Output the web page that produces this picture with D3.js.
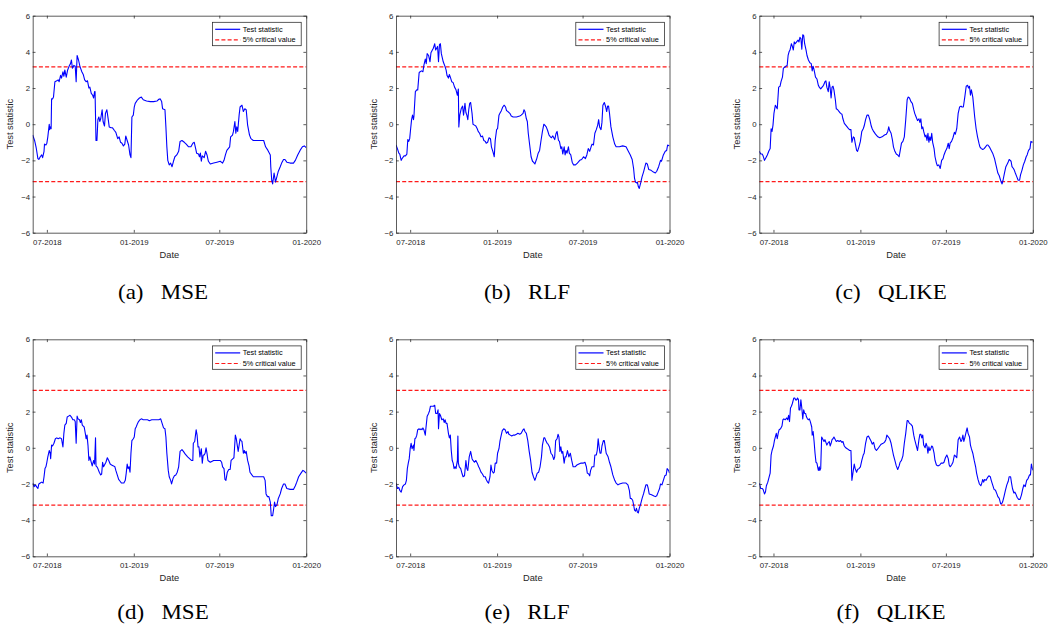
<!DOCTYPE html>
<html lang="en">
<head>
    <meta charset="UTF-8">
    <title>Test statistic</title>
    <script src="https://d3js.org/d3.v7.min.js"></script>
</head>
<style>
    html,body {
        margin: 0;
        padding: 0;
        background: #fff;
    }
</style>
<body>
    <div id="svg"></div>
</body>
<script>
    // days since 2018-06-01, test statistic
    const mseTop = [[0,-0.6],[4,-0.9],[7,-1.25],[8,-1.4],[11,-1.9],[13,-1.95],[16,-1.8],[19,-1.7],[21,-1.85],[24,-1.5],[25,-1.1],[28,-1.15],[30,-1.05],[32,-0.7],[35,0],[36,-0.3],[37,-0.15],[39,-0.25],[40,1.4],[42,1.4],[44,1.5],[47,2.35],[51,2.4],[54,2.45],[56,2.35],[59,2.7],[61,2.55],[64,2.9],[66,2.65],[68,3.0],[71,2.6],[74,3.0],[77,3.2],[80,3.35],[82,3.55],[84,3.1],[87,3.25],[90,3.2],[92,2.35],[94,3.8],[97,3.55],[100,3.2],[104,2.9],[107,2.75],[110,2.45],[113,2.35],[116,2.4],[119,2.0],[121,2.05],[124,1.7],[127,1.6],[129,1.45],[131,1.8],[132,1.8],[134,-0.9],[136,-0.9],[138,0.25],[140,0.4],[142,0.15],[144,0.3],[147,0.8],[149,0.15],[152,-0.1],[154,0.6],[157,0.8],[160,0.25],[162,-0.15],[166,-0.2],[169,-0.2],[173,-0.35],[176,-0.45],[180,-0.8],[183,-0.7],[186,-1.0],[189,-1.05],[192,-1.2],[195,-1.1],[197,-0.65],[200,-0.9],[203,-1.15],[206,-1.7],[208,-1.85],[210,0.4],[213,0.5],[215,0.95],[217,1.15],[222,1.35],[226,1.45],[230,1.5],[234,1.35],[241,1.28],[249,1.25],[256,1.25],[263,1.28],[267,1.38],[270,1.4],[273,1.25],[275,0.85],[280,0.8],[282,-0.15],[284,-1.25],[286,-2.0],[289,-2.25],[292,-2.15],[295,-2.35],[298,-2.05],[301,-1.8],[305,-1.7],[309,-1.5],[312,-0.95],[316,-0.9],[321,-1.0],[325,-1.1],[330,-1.25],[335,-1.25],[339,-1.05],[342,-1.0],[345,-1.35],[347,-1.6],[351,-1.65],[353,-1.8],[355,-1.6],[357,-2.05],[359,-1.75],[363,-1.85],[366,-1.5],[369,-1.7],[372,-2.05],[376,-2.2],[383,-2.15],[390,-2.1],[397,-2.05],[402,-2.15],[405,-2.0],[408,-1.7],[411,-1.45],[414,-1.35],[417,-1.25],[419,-0.7],[423,-0.6],[425,-0.4],[428,0.15],[430,-0.5],[432,-0.15],[434,-0.4],[437,0.5],[439,0.95],[443,1.05],[446,0.7],[449,0.85],[452,0.8],[455,-0.05],[459,-0.6],[462,-0.8],[467,-0.9],[474,-0.9],[481,-0.9],[489,-0.9],[493,-1.25],[498,-1.45],[503,-1.7],[504,-2.35],[506,-3.1],[508,-3.3],[511,-2.7],[514,-3.2],[517,-2.9],[520,-2.6],[524,-2.35],[527,-2.15],[531,-1.95],[534,-1.95],[538,-2.1],[545,-2.15],[552,-2.15],[556,-2.0],[561,-1.7],[566,-1.45],[571,-1.25],[575,-1.2],[579,-1.3]];
    const rlfTop = [[0,-1.15],[3,-1.35],[6,-1.6],[8,-1.65],[11,-2.0],[13,-1.9],[17,-1.75],[20,-1.75],[23,-1.65],[25,-0.85],[27,-0.95],[29,-0.8],[31,-0.25],[33,0.25],[35,0.5],[37,0.25],[38,0.45],[41,1.8],[44,1.9],[46,1.9],[49,2.85],[51,2.9],[54,2.95],[57,2.9],[59,3.25],[62,3.6],[64,3.35],[66,3.9],[69,3.8],[72,3.45],[74,3.95],[77,4.1],[79,4.2],[82,4.45],[84,4.1],[86,4.2],[88,4.3],[90,3.45],[92,4.4],[94,4.45],[96,3.9],[100,3.45],[103,3.25],[106,3.0],[108,2.7],[111,2.55],[113,2.75],[115,2.6],[118,2.35],[121,2.3],[124,2.05],[127,1.9],[130,1.6],[132,1.95],[133,-0.15],[135,0.5],[138,0.85],[141,1.0],[143,0.5],[146,1.15],[148,0.65],[150,0.5],[152,0.25],[154,0.8],[156,1.15],[158,1.2],[161,0.6],[163,0],[166,-0.05],[169,-0.1],[172,-0.25],[174,-0.4],[177,-0.5],[180,-0.7],[183,-0.65],[186,-0.9],[189,-0.95],[191,-1.05],[194,-1.0],[197,-0.75],[200,-0.8],[202,-1.25],[205,-1.5],[207,-1.7],[208,-1.8],[210,-0.9],[213,-0.3],[215,-0.25],[218,0.5],[220,0.6],[223,0.75],[226,0.95],[229,1.05],[232,0.95],[234,0.75],[237,0.7],[241,0.6],[244,0.45],[248,0.4],[255,0.4],[262,0.45],[265,0.5],[269,0.6],[271,0.8],[273,0.7],[276,0.3],[278,0.15],[280,-0.5],[283,-1.15],[286,-1.8],[289,-2.05],[291,-2.1],[294,-2.2],[296,-2.05],[298,-1.9],[301,-1.6],[304,-1.45],[307,-0.9],[310,-0.4],[313,0],[315,-0.05],[318,-0.15],[321,-0.35],[324,-0.6],[327,-0.7],[329,-0.75],[332,-0.65],[336,-0.85],[339,-0.5],[341,-0.4],[344,-0.9],[346,-0.95],[349,-1.35],[351,-1.25],[353,-1.65],[356,-1.25],[358,-1.7],[360,-1.45],[362,-1.6],[365,-1.25],[367,-1.6],[370,-1.7],[373,-2.1],[376,-2.25],[380,-2.25],[384,-2.15],[389,-2.0],[393,-1.95],[397,-1.8],[401,-1.9],[404,-1.7],[407,-1.35],[410,-1.5],[413,-1.25],[415,-1.1],[418,-1.15],[421,-0.5],[424,-0.3],[427,-0.05],[429,0.25],[431,-0.15],[434,-0.3],[436,0.1],[438,1.05],[441,1.2],[444,0.95],[446,0.7],[448,1.0],[450,1.0],[452,0.6],[455,-0.15],[459,-0.7],[463,-1.1],[466,-1.25],[473,-1.25],[480,-1.2],[487,-1.25],[491,-1.45],[496,-1.7],[500,-1.95],[503,-2.45],[505,-3.0],[507,-3.2],[509,-3.25],[511,-3.2],[513,-3.45],[515,-3.55],[518,-3.25],[521,-2.9],[524,-2.65],[527,-2.35],[529,-2.15],[532,-2.2],[535,-2.5],[540,-2.55],[545,-2.65],[549,-2.7],[552,-2.6],[556,-2.35],[560,-2.0],[562,-2.05],[566,-1.7],[570,-1.5],[573,-1.45],[575,-1.15],[579,-1.2]];
    const qlikeTop = [[0,-1.5],[3,-1.65],[6,-1.65],[8,-1.75],[11,-2.0],[14,-1.85],[17,-1.7],[20,-1.5],[23,-1.35],[25,-0.25],[27,-0.4],[29,-0.05],[31,0.6],[34,1.05],[36,0.95],[38,0.85],[41,2.05],[44,2.1],[46,2.35],[49,2.6],[51,3.1],[54,3.15],[56,3.2],[59,3.25],[61,3.8],[63,4.0],[65,4.1],[68,4.45],[70,4.3],[72,4.1],[74,4.55],[76,4.45],[79,4.55],[82,4.65],[84,4.55],[86,4.8],[88,4.75],[90,4.15],[92,4.95],[94,4.9],[96,4.45],[99,4.1],[101,3.8],[104,3.55],[107,3.4],[110,3.35],[112,2.95],[114,3.2],[116,3.0],[119,2.6],[122,2.5],[125,2.15],[127,2.05],[130,1.95],[133,2.05],[136,2.15],[139,2.35],[141,2.4],[143,2.05],[146,1.8],[148,2.35],[150,2.0],[152,1.45],[154,2.05],[156,2.1],[158,1.9],[161,1.35],[163,0.85],[166,0.8],[169,0.7],[172,0.6],[175,0.55],[177,0.3],[180,0.05],[183,-0.05],[186,-0.15],[189,-0.25],[191,-0.3],[194,-0.3],[196,-1.0],[199,-0.7],[201,-0.75],[203,-1.05],[206,-1.45],[208,-1.5],[211,-1.25],[214,-0.95],[217,-0.4],[220,-0.25],[222,-0.1],[225,0.25],[228,0.5],[231,0.5],[234,0.25],[237,-0.1],[239,-0.25],[242,-0.4],[246,-0.55],[251,-0.7],[255,-0.75],[260,-0.7],[265,-0.6],[269,-0.55],[272,-0.4],[274,-0.15],[276,-0.35],[279,-0.5],[282,-0.9],[284,-1.25],[287,-1.5],[290,-1.65],[293,-1.7],[296,-1.8],[298,-1.5],[301,-1.05],[304,-0.95],[307,-0.7],[310,0.25],[313,1.35],[315,1.5],[318,1.45],[321,1.25],[324,1.15],[327,0.8],[329,0.6],[332,0.4],[335,0.2],[338,0.3],[340,0.1],[342,0.3],[344,-0.25],[346,-0.15],[348,-0.4],[351,-0.7],[353,-0.6],[355,-0.9],[357,-0.5],[359,-1.0],[361,-0.7],[363,-0.9],[365,-0.5],[367,-1.0],[370,-1.35],[372,-1.8],[375,-2.15],[377,-2.3],[380,-2.25],[383,-2.45],[386,-2.0],[389,-1.9],[391,-1.7],[394,-1.5],[397,-1.35],[400,-1.05],[402,-1.35],[404,-1.05],[407,-0.95],[410,-0.75],[413,-0.45],[415,-0.55],[418,-0.25],[421,0.6],[424,0.95],[427,1.0],[429,0.95],[432,0.95],[435,1.5],[438,2.1],[441,2.15],[443,2.0],[445,2.1],[447,1.6],[449,1.9],[452,1.5],[454,0.95],[456,0.4],[459,-0.25],[462,-0.7],[465,-1.05],[467,-1.25],[470,-1.35],[473,-1.4],[476,-1.35],[479,-1.25],[482,-1.15],[484,-1.15],[487,-1.25],[491,-1.45],[494,-1.6],[498,-1.9],[501,-2.25],[505,-2.7],[508,-2.85],[512,-3.2],[514,-3.3],[516,-3.1],[519,-2.7],[522,-2.35],[526,-2.15],[529,-1.95],[533,-2.05],[535,-2.35],[538,-2.45],[540,-2.55],[542,-2.7],[545,-2.9],[548,-3.1],[551,-3.1],[553,-2.8],[556,-2.55],[559,-2.25],[562,-2.05],[565,-1.8],[567,-1.7],[570,-1.45],[573,-1.35],[575,-0.95],[579,-1.0]];
    const mseBottom = [[0,-1.95],[3,-2.15],[6,-2.05],[8,-2.15],[11,-2.25],[13,-2.0],[16,-1.95],[19,-1.9],[22,-1.95],[24,-1.6],[26,-1.15],[28,-1.05],[30,-0.8],[32,-0.5],[35,-0.15],[37,-0.3],[38,-0.6],[40,0.15],[42,0.1],[45,0.25],[48,0.5],[51,0.55],[54,0.5],[58,0.55],[61,0.5],[64,0.05],[66,0.8],[68,1.25],[71,1.35],[73,1.7],[76,1.75],[79,1.8],[82,1.7],[85,1.55],[88,1.55],[90,1.45],[92,0.25],[94,1.75],[96,1.6],[99,1.55],[101,1.4],[103,1.55],[105,1.25],[107,1.2],[109,1.15],[112,0.7],[113,0.5],[115,0.7],[117,0.15],[119,-0.7],[121,-0.5],[124,-0.8],[126,-1.0],[129,-0.7],[131,-0.9],[133,0.55],[134,-1.0],[136,-1.05],[138,-1.15],[141,-1.35],[144,-1.5],[146,-1.45],[148,-0.8],[150,-1.05],[152,-0.95],[155,-0.8],[158,-0.55],[161,-0.7],[164,-0.9],[167,-0.95],[171,-1.0],[174,-1.05],[176,-1.25],[179,-1.5],[182,-1.75],[185,-1.85],[188,-1.95],[191,-1.95],[193,-1.95],[196,-1.8],[198,-1.4],[200,-0.9],[202,-1.15],[204,-1.05],[206,-1.35],[208,-0.3],[210,0.4],[213,0.5],[215,0.6],[217,1.05],[219,1.15],[222,1.35],[224,1.45],[227,1.55],[230,1.6],[234,1.55],[239,1.55],[243,1.55],[247,1.5],[252,1.55],[257,1.55],[263,1.55],[267,1.55],[271,1.6],[274,1.35],[277,1.1],[280,1.05],[282,0.6],[284,-0.3],[287,-1.25],[289,-1.6],[292,-1.8],[294,-2.0],[297,-1.7],[300,-1.55],[303,-1.5],[306,-1.35],[309,-1.05],[312,-0.2],[316,-0.1],[319,-0.2],[323,-0.35],[328,-0.5],[332,-0.6],[336,-0.7],[339,-0.7],[340,0.25],[343,0.35],[346,1.0],[348,0.7],[350,0.05],[352,0.05],[354,-0.5],[357,-0.05],[359,-0.85],[361,-0.4],[363,-0.4],[365,-0.3],[367,0],[369,-0.3],[371,-0.7],[376,-0.8],[383,-0.7],[390,-0.7],[397,-0.7],[400,-0.8],[402,-1.05],[405,-1.15],[407,-1.75],[409,-1.8],[412,-1.35],[415,-1.2],[418,-1.2],[420,-0.7],[424,-0.6],[426,-0.55],[429,0.7],[431,0.5],[433,0.15],[435,-0.2],[437,0.15],[439,0.5],[441,0.4],[443,0.35],[446,-0.3],[448,-0.15],[450,-0.3],[452,-0.2],[455,-0.7],[458,-1.0],[460,-1.35],[464,-1.5],[467,-1.6],[474,-1.6],[481,-1.6],[489,-1.6],[492,-1.8],[494,-2.55],[497,-2.7],[500,-2.7],[503,-3.0],[505,-3.75],[508,-3.75],[510,-3.4],[512,-3.0],[514,-3.25],[517,-3.15],[520,-2.8],[524,-2.55],[527,-2.25],[531,-2.0],[534,-2.0],[538,-2.25],[545,-2.3],[552,-2.3],[556,-2.1],[559,-1.9],[563,-1.6],[568,-1.4],[572,-1.25],[575,-1.3],[579,-1.4]];
    const rlfBottom = [[0,-1.95],[3,-2.25],[6,-2.2],[8,-2.35],[11,-2.45],[14,-2.15],[17,-2.05],[20,-2.0],[22,-1.8],[24,-1.15],[26,-0.85],[28,-0.6],[30,-0.05],[32,0.25],[34,-0.05],[37,0.15],[38,-0.15],[40,0.5],[42,0.55],[44,0.7],[46,1.0],[49,1.05],[51,1.0],[53,1.05],[55,1.0],[57,1.1],[59,1.0],[62,0.7],[63,1.0],[66,1.75],[69,1.9],[71,2.05],[73,2.3],[76,2.3],[79,2.3],[82,2.35],[84,1.9],[87,1.9],[89,2.1],[90,1.05],[92,1.9],[94,1.8],[97,1.55],[100,1.6],[102,1.4],[104,1.55],[106,1.35],[108,1.35],[111,0.8],[113,0.55],[115,0.7],[117,-0.15],[119,-0.7],[121,-0.85],[123,-1.15],[125,-1.05],[127,-1.15],[130,-0.7],[131,0.65],[132,-0.85],[134,-1.05],[137,-1.15],[139,-1.35],[142,-1.6],[145,-1.55],[148,-0.7],[150,-1.15],[152,-1.25],[155,-0.5],[158,-0.2],[161,-0.6],[163,-0.7],[166,-0.8],[169,-0.7],[172,-0.85],[175,-1.05],[177,-1.15],[180,-1.35],[183,-1.45],[186,-1.6],[189,-1.6],[191,-1.75],[194,-1.9],[196,-1.95],[199,-1.6],[201,-0.95],[203,-1.25],[206,-1.4],[208,-1.35],[210,-0.85],[213,-0.85],[215,-0.3],[218,-0.05],[220,0.35],[222,0.6],[225,0.95],[228,1.05],[231,1.0],[234,0.8],[237,0.9],[239,0.75],[242,0.7],[245,0.65],[248,0.7],[251,0.7],[255,0.75],[258,0.8],[262,0.75],[265,0.8],[269,1.0],[271,1.05],[273,0.9],[276,0.8],[279,0.4],[282,-0.2],[285,-0.7],[288,-1.35],[291,-1.6],[294,-1.8],[296,-1.65],[299,-1.4],[302,-1.35],[305,-1.05],[308,-0.5],[310,0.15],[313,0.55],[315,0.55],[317,0.4],[320,0.25],[322,0.2],[325,0.05],[328,-0.3],[331,-0.4],[334,-0.65],[336,-0.5],[338,0.4],[341,0.5],[343,0.75],[345,0.6],[347,-0.2],[349,0.05],[351,-0.3],[353,-0.2],[356,-0.85],[358,-0.5],[360,-0.5],[363,-0.15],[366,-0.5],[369,-0.3],[372,-0.7],[375,-1.05],[379,-1.05],[383,-0.95],[387,-0.9],[391,-0.85],[396,-0.85],[400,-0.8],[403,-1.05],[405,-1.4],[408,-1.45],[410,-1.55],[412,-1.25],[415,-1.05],[417,-1.05],[419,-1.05],[421,-0.4],[424,-0.4],[426,-0.15],[428,0.5],[430,0.05],[432,-0.3],[434,-0.3],[436,0.1],[439,0.4],[441,0.4],[443,0.05],[445,-0.3],[447,-0.4],[449,-0.5],[452,-0.8],[455,-1.05],[459,-1.5],[463,-1.8],[466,-1.95],[470,-2.05],[473,-2.0],[480,-1.95],[487,-1.95],[491,-2.05],[494,-2.35],[496,-2.8],[498,-2.8],[501,-2.9],[503,-3.15],[505,-3.45],[507,-3.5],[509,-3.35],[511,-3.55],[513,-3.6],[515,-3.35],[518,-3.1],[521,-2.8],[524,-2.55],[527,-2.25],[529,-2.05],[532,-2.05],[534,-2.25],[536,-2.55],[541,-2.6],[545,-2.65],[549,-2.7],[552,-2.65],[555,-2.45],[558,-2.25],[560,-2.0],[563,-2.05],[566,-1.8],[569,-1.55],[572,-1.5],[574,-1.15],[577,-1.25],[579,-1.4]];
    const qlikeBottom = [[0,-1.95],[3,-2.25],[6,-2.25],[8,-2.3],[11,-2.55],[13,-2.45],[15,-2.1],[18,-1.9],[21,-1.6],[23,-1.4],[25,-0.4],[27,-0.15],[30,0.1],[32,0.4],[34,0.6],[36,0.8],[38,0.5],[40,0.8],[42,1.0],[45,1.05],[48,1.2],[50,1.55],[52,1.6],[55,1.55],[58,1.65],[60,1.55],[62,1.8],[64,1.45],[66,2.2],[68,2.3],[70,2.45],[73,2.75],[75,2.75],[77,2.65],[79,2.65],[81,2.75],[83,2.65],[84,2.1],[86,2.1],[88,2.65],[90,2.2],[92,1.6],[94,2.1],[96,1.9],[98,1.9],[100,1.7],[102,1.6],[104,1.55],[106,1.6],[108,1.45],[111,1.15],[112,0.7],[114,0.9],[116,0.35],[118,-0.3],[120,-0.8],[122,-0.85],[125,-1.25],[127,-1.05],[128,-1.25],[130,-1.15],[132,0.6],[134,0.5],[137,0.35],[139,0.45],[141,0.3],[143,0.15],[145,0.25],[148,0.35],[150,0.1],[152,0.25],[154,0.45],[156,0.5],[158,0.6],[161,0.45],[163,0.35],[166,0.4],[169,0.35],[172,0.4],[175,0.3],[177,0.35],[180,0.1],[183,0],[186,-0.05],[189,-0.1],[191,-0.15],[194,-0.15],[196,-1.8],[199,-1.25],[201,-0.9],[203,-1.15],[206,-1.35],[208,-1.2],[211,-1.15],[214,-1.05],[217,-0.7],[220,-0.4],[222,-0.3],[225,0.25],[228,0.6],[231,0.65],[234,0.5],[237,0.35],[239,0.2],[242,0.3],[245,-0.05],[248,-0.15],[251,-0.05],[255,0.1],[258,0.2],[262,0.25],[265,0.3],[268,0.45],[270,0.7],[273,0.6],[276,0.5],[279,0.25],[282,-0.15],[284,-0.4],[287,-0.7],[290,-1.0],[293,-1.2],[296,-1.0],[298,-0.8],[301,-0.7],[304,-0.45],[307,0.25],[310,0.8],[313,1.5],[315,1.5],[318,1.35],[321,1.3],[324,1.2],[327,0.7],[329,0.45],[332,0.15],[335,-0.15],[338,0.45],[340,0.75],[342,0.75],[344,0.55],[346,0.7],[348,0.15],[351,0],[353,0.25],[355,0.1],[357,-0.3],[359,0.05],[361,-0.15],[363,-0.05],[365,0.1],[367,0.05],[370,-0.3],[372,-0.7],[375,-0.95],[378,-1.0],[382,-0.95],[385,-0.85],[389,-0.85],[391,-0.8],[394,-0.55],[397,-0.4],[400,-0.6],[402,-0.95],[404,-1.05],[407,-0.95],[410,-0.8],[413,-0.4],[415,-0.45],[418,-0.55],[421,0.45],[424,0.6],[427,0.35],[429,0.45],[431,0.7],[433,0.35],[435,0.55],[438,0.9],[440,1.1],[442,0.8],[445,0.6],[447,0.15],[449,-0.05],[452,-0.3],[455,-0.7],[458,-1.05],[460,-1.4],[463,-1.75],[466,-2.0],[469,-2.1],[471,-1.95],[473,-1.75],[475,-1.9],[477,-1.75],[480,-1.8],[483,-1.65],[486,-1.55],[489,-1.6],[491,-1.8],[494,-2.05],[497,-2.3],[500,-2.35],[503,-2.55],[505,-2.7],[508,-2.8],[511,-3.1],[513,-3.1],[515,-3.0],[518,-2.7],[521,-2.35],[524,-2.05],[527,-1.85],[529,-1.6],[532,-1.6],[534,-1.95],[536,-2.25],[539,-2.5],[541,-2.45],[543,-2.55],[546,-2.75],[549,-2.85],[552,-2.85],[555,-2.6],[558,-2.25],[560,-2.05],[563,-2.15],[566,-1.8],[569,-1.7],[572,-1.5],[574,-1.5],[576,-0.9],[579,-1.25]];

    const series = [mseTop, rlfTop, qlikeTop, mseBottom, rlfBottom, qlikeBottom];
    const captionTags = ['(a)', '(b)', '(c)', '(d)', '(e)', '(f)'];
    const captionNames = ['MSE', 'RLF', 'QLIKE', 'MSE', 'RLF', 'QLIKE'];
    const criticalValue = 3.17;
    const yTicks = [-6, -4, -2, 0, 2, 4, 6];
    const xTickDates = ['2018-07-01', '2019-01-01', '2019-07-01', '2020-01-01'];
    const legendLabels = ['Test statistic', '5% critical value'];

    const startDate = new Date(2018, 5, 1);
    const endDate = new Date(2020, 0, 1);
    const parseDay = d3.timeParse('%Y-%m-%d');

    // layout
    const colLeft = [32.7, 396, 759.3];
    const rowTop = [15.7, 339.3];
    const captionX = [163, 527, 891];
    const captionBase = [299, 619];
    const pw = 273.5, ph = 217;
    const axisColor = '#262626';
    const red = '#ff1a1a';
    const sans = '"Liberation Sans", Arial, Helvetica, sans-serif';

    const svg = d3.select('#svg').append('svg')
        .attr('width', 1048)
        .attr('height', 625);

    svg.append('defs').append('clipPath').attr('id', 'plotclip')
        .append('rect').attr('width', pw).attr('height', ph);

    const x = d3.scaleTime().domain([startDate, endDate]).range([0, pw]);
    const y = d3.scaleLinear().domain([-6, 6]).range([ph, 0]);
    const line = d3.line()
        .x(d => x(d3.timeDay.offset(startDate, d[0])))
        .y(d => y(d[1]));

    series.forEach((data, i) => {
        const col = i % 3, row = Math.floor(i / 3);
        const g = svg.append('g')
            .attr('transform', `translate(${colLeft[col]},${rowTop[row]})`);

        // critical values
        [criticalValue, -criticalValue].forEach(v => {
            g.append('line')
                .attr('x1', 0).attr('x2', pw)
                .attr('y1', y(v)).attr('y2', y(v))
                .attr('stroke', red)
                .attr('stroke-width', 1.25)
                .attr('stroke-dasharray', '4,2.2');
        });

        g.append('path')
            .datum(data)
            .attr('clip-path', 'url(#plotclip)')
            .attr('d', line)
            .attr('fill', 'none')
            .attr('stroke', '#0000ff')
            .attr('stroke-width', 1.1)
            .attr('stroke-linejoin', 'round');

        // axes, ticks inside on all four sides
        const tickDates = xTickDates.map(parseDay);
        const fmt = d3.timeFormat('%m-%Y');
        const axes = [
            [d3.axisBottom(x).tickValues(tickDates).tickFormat(fmt).tickPadding(6.4), `translate(0,${ph})`],
            [d3.axisTop(x).tickValues(tickDates).tickFormat(''), 'translate(0,0)'],
            [d3.axisLeft(y).tickValues(yTicks).tickFormat(d3.format('d')).tickPadding(2.6), 'translate(0,0)'],
            [d3.axisRight(y).tickValues(yTicks).tickFormat(''), `translate(${pw},0)`]
        ];
        axes.forEach(([ax, tr]) => {
            const a = g.append('g')
                .attr('transform', tr)
                .call(ax.tickSizeInner(-2.8).tickSizeOuter(0));
            a.selectAll('path, line').attr('stroke', axisColor).attr('stroke-width', 0.75);
            a.selectAll('text')
                .attr('fill', axisColor)
                .style('font-family', sans)
                .style('font-size', '7.8px');
        });

        g.append('text')
            .attr('transform', `translate(-19.5,${ph / 2}) rotate(-90)`)
            .attr('text-anchor', 'middle')
            .attr('fill', axisColor)
            .style('font-family', sans)
            .style('font-size', '9.3px')
            .text('Test statistic');

        g.append('text')
            .attr('x', pw / 2)
            .attr('y', ph + 25)
            .attr('text-anchor', 'middle')
            .attr('fill', axisColor)
            .style('font-family', sans)
            .style('font-size', '9.3px')
            .text('Date');

        // legend
        const lg = g.append('g').attr('transform', `translate(${pw - 93.7},6.6)`);
        lg.append('rect')
            .attr('width', 88.7).attr('height', 23.4)
            .attr('fill', '#fff')
            .attr('stroke', axisColor)
            .attr('stroke-width', 0.75);
        legendLabels.forEach((lab, k) => {
            const ly = 7 + k * 10.6;
            lg.append('line')
                .attr('x1', 2.7).attr('x2', 27.7)
                .attr('y1', ly).attr('y2', ly)
                .attr('stroke', k === 0 ? '#0000ff' : red)
                .attr('stroke-width', 1.2)
                .attr('stroke-dasharray', k === 0 ? null : '4,2.2');
            lg.append('text')
                .attr('x', 30.3)
                .attr('y', ly + 2.6)
                .attr('fill', '#000')
                .style('font-family', sans)
                .style('font-size', '7.3px')
                .text(lab);
        });

        // caption under the panel
        const cap = svg.append('g')
            .attr('transform', `translate(${captionX[col]},${captionBase[row]}) scale(1.15,1)`);
        const t1 = cap.append('text')
            .style('font-family', '"Liberation Serif", "Times New Roman", serif')
            .style('font-size', '20px')
            .attr('fill', '#000')
            .text(captionTags[i]);
        const t2 = cap.append('text')
            .style('font-family', '"Liberation Serif", "Times New Roman", serif')
            .style('font-size', '20px')
            .attr('fill', '#000')
            .text(captionNames[i]);
        const w1 = t1.node().getComputedTextLength();
        const w2 = t2.node().getComputedTextLength();
        const gap = 15;
        const total = w1 + gap + w2;
        t1.attr('x', -total / 2);
        t2.attr('x', -total / 2 + w1 + gap);
    });
</script>
</html>
